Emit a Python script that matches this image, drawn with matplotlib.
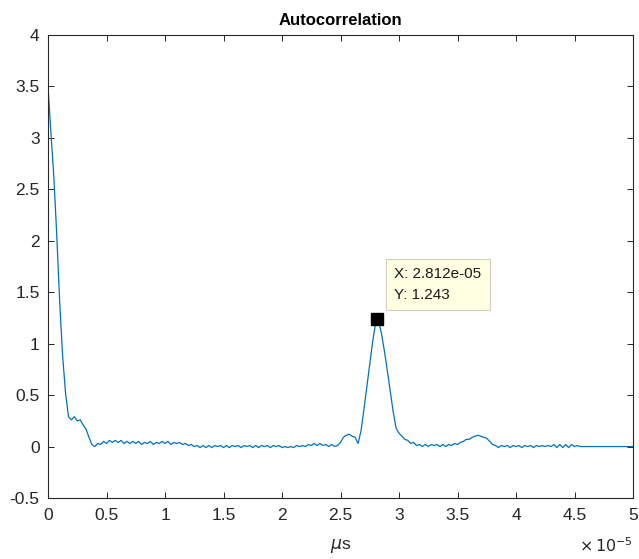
import numpy as np
import matplotlib
matplotlib.use('Agg')
import matplotlib.pyplot as plt
from matplotlib.ticker import FuncFormatter

plt.rcParams['font.family'] = ['Liberation Sans', 'DejaVu Sans']

# lag grid in units of 1e-5 s, step 0.025
lag_step = 0.025
acf = [
    3.50, 3.05, 2.62, 2.05, 1.40, 0.88, 0.52, 0.29,
    0.26, 0.29, 0.25, 0.26, 0.21, 0.17, 0.09, 0.02,
    0.00, 0.03, 0.02, 0.05, 0.03, 0.06, 0.04, 0.06,
    0.04, 0.06, 0.03, 0.05, 0.03, 0.05, 0.03, 0.05,
    0.02, 0.04, 0.03, 0.05, 0.02, 0.04, 0.03, 0.05,
    0.03, 0.05, 0.02, 0.04, 0.03, 0.04, 0.02, 0.03,
    0.01, 0.02, 0.00, 0.01, -0.01, 0.01, -0.01, 0.01,
    -0.01, 0.01, 0.00, 0.01, -0.01, 0.01, -0.01, 0.01,
    0.00, 0.01, -0.01, 0.01, 0.00, 0.01, -0.01, 0.01,
    -0.01, 0.01, 0.00, 0.01, -0.01, 0.01, 0.00, 0.01,
    -0.01, 0.00, -0.01, 0.00, -0.01, 0.01, 0.00, 0.01,
    0.00, 0.02, 0.01, 0.03, 0.01, 0.03, 0.01, 0.02,
    0.00, 0.02, 0.00, 0.01, 0.04, 0.09, 0.11, 0.12,
    0.10, 0.09, 0.03, 0.15, 0.36, 0.58, 0.80, 1.02,
    1.20, 1.22, 1.10, 0.93, 0.74, 0.54, 0.34, 0.18,
    0.13, 0.10, 0.07, 0.06, 0.03, 0.04, 0.01, 0.02,
    0.00, 0.02, 0.00, 0.02, 0.01, 0.02, 0.00, 0.02,
    0.00, 0.02, 0.01, 0.03, 0.02, 0.04, 0.05, 0.07,
    0.07, 0.09, 0.10, 0.11, 0.10, 0.09, 0.08, 0.05,
    0.02, 0.01, -0.01, 0.01, 0.00, 0.01, -0.01, 0.01,
    0.00, 0.01, -0.01, 0.01, 0.00, 0.01, -0.01, 0.01,
    0.00, 0.01, 0.00, 0.01, 0.00, 0.02, -0.01, 0.02,
    -0.01, 0.02, -0.01, 0.02, 0.00, 0.01, 0.00, 0.00,
    0.00, 0.00, 0.00, 0.00, 0.00, 0.00, 0.00, 0.00,
    0.00, 0.00, 0.00, 0.00, 0.00, 0.00, 0.00, 0.00,
    0.00,
]
peak_t = 2.812e-5
peak_val = 1.243

t = np.arange(len(acf)) * lag_step * 1e-5
y = np.array(acf)
i = np.searchsorted(t, peak_t)
t = np.insert(t, i, peak_t)
y = np.insert(y, i, peak_val)

txt_col = '#262626'
fig = plt.figure(figsize=(6.39, 5.59), dpi=100)
ax = fig.add_axes([48/639, 1 - 498/559, 585/639, 463/559])
ax.plot(t, y, color='#0072BD', lw=0.9)
ax.plot([peak_t], [peak_val], 's', color='black', ms=8)
ax.annotate(f'X: {peak_t:.3e}\nY: {peak_val}', xy=(peak_t, peak_val),
            xytext=(17, 17), textcoords='offset pixels', ha='left', va='bottom',
            fontsize=11, color='#1a1a1a', linespacing=1.6,
            bbox=dict(boxstyle='square,pad=0.55', fc='#ffffe1', ec='#d0d0c0', lw=0.8))

ax.set_xlim(0, 5e-5)
ax.set_ylim(-0.5, 4)
ax.set_xticks(np.arange(0, 5.01, 0.5) * 1e-5)
ax.set_yticks(np.arange(-0.5, 4.01, 0.5))
ax.xaxis.set_major_formatter(FuncFormatter(lambda v, p: f'{v*1e5:g}'))
ax.yaxis.set_major_formatter(FuncFormatter(lambda v, p: f'{v:g}'))
ax.tick_params(direction='in', length=4, width=0.7, top=True, right=True,
               labelsize=12.5, colors=txt_col)
ax.tick_params(axis='x', pad=7)
ax.tick_params(axis='y', pad=6)
for s in ax.spines.values():
    s.set_color(txt_col)
    s.set_linewidth(0.8)

ax.set_title('Autocorrelation', fontsize=12, fontweight='bold', color='black', pad=7)
ax.set_xlabel(r'$\mu$s', fontsize=12.5, color=txt_col, labelpad=10)
ax.text(1.0, -0.083, r'$\times\,10^{-5}$', transform=ax.transAxes, ha='right', va='top',
        fontsize=11.5, color=txt_col)

fig.savefig('out.png', dpi=100)
